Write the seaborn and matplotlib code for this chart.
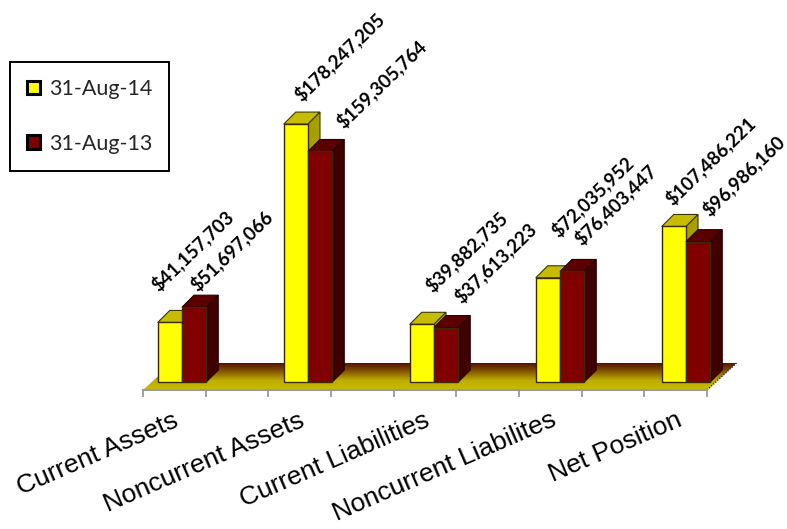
import numpy as np
import pandas as pd
import seaborn as sns
import matplotlib
matplotlib.use("Agg")
import matplotlib.pyplot as plt
from matplotlib.colors import LinearSegmentedColormap
from matplotlib.patches import Polygon
from matplotlib.transforms import ScaledTranslation

categories = ["Current Assets", "Noncurrent Assets", "Current Liabilities",
              "Noncurrent Liabilites", "Net Position"]
series_names = ["31-Aug-14", "31-Aug-13"]
values_2014 = [41157703, 178247205, 39882735, 72035952, 107486221]
values_2013 = [51697066, 159305764, 37613223, 76403447, 96986160]

# label centre offsets from the bar top, in pixels (layout only)
offsets_2014 = [(22, -72), (43, -67), (44, -73), (44, -81), (36, -66)]
offsets_2013 = [(37, -57), (61, -68), (49, -65), (43, -67), (45, -66)]

W, H = 787, 529
sns.set_theme(style="white")
plt.rcParams["font.family"] = ["Liberation Sans", "DejaVu Sans"]

fig = plt.figure(figsize=(W / 100, H / 100), dpi=100)
ax = fig.add_axes([143 / W, (H - 390) / H, (707 - 143) / W, 390 / H])

df = pd.DataFrame({
    "category": categories * 2,
    "series": [series_names[0]] * 5 + [series_names[1]] * 5,
    "value": [v / 1e6 for v in values_2014 + values_2013],
})
palette = {series_names[0]: "#FFFF00", series_names[1]: "#800000"}
sns.barplot(data=df, x="category", y="value", hue="series", hue_order=series_names,
            palette=palette, width=0.385, gap=0, saturation=1, dodge=True,
            edgecolor="#3a2a00", linewidth=1.0, ax=ax, legend=True, zorder=3)

XS, YS = 126.0, 1.447          # pixels per category, pixels per million
xlim = ((143 - 182) / XS, (707 - 182) / XS)
ylim = (-8 / YS, 382 / YS)
DX, DY = 12 / XS, 12 / YS      # fake-3D depth of the bars
FX, FY = 29.5 / XS, 27 / YS    # fake-3D depth of the floor

# floor with gradient
floor_pts = [(xlim[0], ylim[0]), (xlim[1], ylim[0]),
             (xlim[1] + FX, ylim[0] + FY), (xlim[0] + FX, ylim[0] + FY)]
cmap = LinearSegmentedColormap.from_list(
    "floor", [(0, "#C8BC00"), (0.35, "#BDAE00"), (0.75, "#7A4A00"), (1, "#5A1400")])
im = ax.imshow(np.linspace(0, 1, 64)[:, None], cmap=cmap, origin="lower", aspect="auto",
               extent=(xlim[0], xlim[1] + FX, ylim[0], ylim[0] + FY), zorder=1)
floor = Polygon(floor_pts, closed=True, transform=ax.transData, fc="none", ec="none")
ax.add_patch(floor)
floor.set_clip_on(False)
im.set_clip_box(fig.bbox)
im.set_clip_path(floor)
ax.plot([xlim[1], xlim[1] + FX], [ylim[0], ylim[0] + FY], color="#222222", lw=1,
        ls=(0, (1, 1)), clip_on=False, zorder=1.5)

# fake 3D faces and value labels
styles = [("#C8BC00", "#A89E00", "#3a3a00", offsets_2014, values_2014, 2.5, 3),
          ("#5A0000", "#400000", "#220000", offsets_2013, values_2013, 4.5, 5)]
for cont, (top_c, side_c, edge_c, offs, vals, z_back, z_front) in zip(ax.containers, styles):
    for bar, (ox, oy), val in zip(cont, offs, vals):
        bar.set_zorder(z_front)
        bar.set_clip_on(False)
        x0, x1 = bar.get_x(), bar.get_x() + bar.get_width()
        y1 = bar.get_height()
        ax.add_patch(Polygon([(x0, y1), (x1, y1), (x1 + DX, y1 + DY), (x0 + DX, y1 + DY)],
                             fc=top_c, ec=edge_c, lw=0.8, zorder=z_back, clip_on=False))
        ax.add_patch(Polygon([(x1, 0), (x1 + DX, DY), (x1 + DX, y1 + DY), (x1, y1)],
                             fc=side_c, ec=edge_c, lw=0.8, zorder=z_back, clip_on=False))
        ax.annotate(f"${val:,.0f}", xy=((x0 + x1) / 2, y1), xycoords="data",
                    xytext=(ox * 0.72, -oy * 0.72), textcoords="offset points",
                    rotation=44, ha="center", va="center", rotation_mode="anchor",
                    fontsize=13.5, fontweight="bold", family=["Lato", "DejaVu Sans"],
                    color="black", zorder=10, annotation_clip=False)

ax.set_xlim(*xlim)
ax.set_ylim(*ylim)
ax.set_xlabel("")
ax.set_ylabel("")
ax.set_yticks([])
for s in ["left", "right", "top"]:
    ax.spines[s].set_visible(False)
ax.spines["bottom"].set_color("#9A9A9A")
ax.spines["bottom"].set_linewidth(1.5)
ax.patch.set_alpha(0)

ax.set_xticks(np.linspace(xlim[0], xlim[1], 10), minor=True)
ax.tick_params(axis="x", which="minor", bottom=True, length=5, width=1.3, color="#9A9A9A")
ax.set_xticks(range(len(categories)))
ax.set_xticklabels(categories, rotation=23.5, ha="right", rotation_mode="anchor",
                   fontsize=19, color="black")
ax.tick_params(axis="x", which="major", bottom=False, pad=7)
shift = ScaledTranslation(-10 / 100, 0, fig.dpi_scale_trans)
for lab in ax.get_xticklabels():
    lab.set_transform(lab.get_transform() + shift)

# legend
handles, labels = ax.get_legend_handles_labels()
leg = ax.legend(handles, labels, loc="upper left",
                bbox_to_anchor=(10 / W, 1 - 62 / H), bbox_transform=fig.transFigure,
                fancybox=False, framealpha=1, edgecolor="black",
                prop={"family": ["Lato", "DejaVu Sans"], "size": 15.5},
                handlelength=0.6, handleheight=0.6, handletextpad=0.4,
                labelspacing=1.6, borderpad=0.8, borderaxespad=0, markerscale=1)
leg.get_frame().set_linewidth(1.4)
leg.set_zorder(20)
for h in leg.legend_handles:
    h.set_edgecolor("black")
    h.set_linewidth(2.2)

fig.savefig("out.png", dpi=100)
